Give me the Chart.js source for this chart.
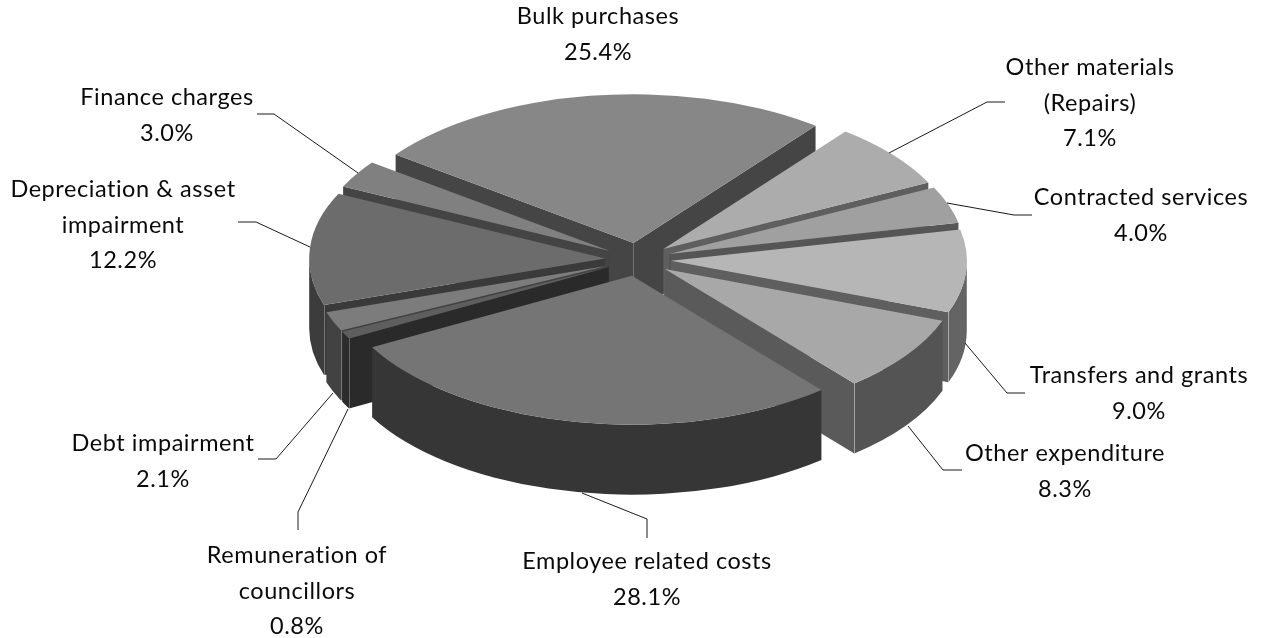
<!DOCTYPE html>
<html>
<head>
<meta charset="utf-8">
<title>Operating expenditure by type</title>
<script src="https://cdn.jsdelivr.net/npm/chart.js@4"></script>
<style>
  html, body { margin: 0; background: #fff; }
  #wrap { width: 1263px; height: 638px; }
</style>
</head>
<body>
<div id="wrap"><canvas id="pieChart"></canvas></div>
<script>
// Expenditure shares, clockwise from Bulk purchases
const categories = ['Bulk purchases', 'Other materials\n(Repairs)', 'Contracted services', 'Transfers and grants', 'Other expenditure',
    'Employee related costs', 'Remuneration of\ncouncillors', 'Debt impairment', 'Depreciation & asset\nimpairment', 'Finance charges'];
const shares = [25.4, 7.1, 4.0, 9.0, 8.3, 28.1, 0.8, 2.1, 12.2, 3.0];

const topColors = ['#878787', '#acacac', '#a0a0a0', '#b6b6b6', '#a8a8a8', '#757575', '#5e5e5e', '#7c7c7c', '#6c6c6c', '#808080'];
const rimColors = ['#454545', '#5c5c5c', '#555555', '#646464', '#545454', '#363636', '#2c2c2c', '#424242', '#3c3c3c', '#444444'];
const cutColors = ['#454545', '#5f5f5f', '#555555', '#5f5f5f', '#5a5a5a', '#363636', '#2a2a2a', '#424242', '#3a3a3a', '#444444'];

// Label centres, first line baseline
const labelSpots = [[598, 24], [1090, 75], [1141, 205], [1139, 383], [1065, 461], [647, 569], [297, 563], [163, 451], [123, 197], [167, 105]];
const leaders = [
    null,
    [[889, 153], [987, 102], [1005, 102]],
    [[947, 203], [1014, 215], [1032, 215]],
    [[965, 343], [1007, 393], [1025, 393]],
    [[908, 426], [943, 470], [962, 470]],
    [[582, 493], [647, 519], [647, 538]],
    [[348, 409], [298, 512], [298, 530]],
    [[333, 393], [276, 459], [258, 459]],
    [[310, 247], [256, 222], [238, 222]],
    [[358, 173], [274, 114], [257, 114]]
];

const RIM_X = 296;   // on-screen half width of the disc
const TILT = 0.503;  // how much the disc is squashed vertically
const DEPTH = 70;    // wall height

// Pie that extrudes each slice and paints back to front
class Pie3DController extends Chart.PieController {
    static id = 'pie3d';

    draw() {
        const ctx = this.chart.ctx;
        const arcs = this.getMeta().data.map((el, i) => ({ el, i }));
        const midY = a => Math.sin((a.el.startAngle + a.el.endAngle) / 2);
        arcs.sort((a, b) => midY(a) - midY(b));
        arcs.forEach(a => this.drawSlice(ctx, a.el, a.i));
    }

    drawSlice(ctx, el, i) {
        const a0 = el.startAngle, a1 = el.endAngle;
        const mid = (a0 + a1) / 2;
        const kx = RIM_X / el.outerRadius, ky = kx * TILT;
        const cx = el.x + Math.cos(mid) * el.options.offset * kx;
        const cy = el.y + Math.sin(mid) * el.options.offset * ky;
        const rx = el.outerRadius * kx, ry = el.outerRadius * ky;
        const px = a => cx + Math.cos(a) * rx;
        const py = a => cy + Math.sin(a) * ry;

        const cutWall = a => {
            ctx.beginPath();
            ctx.moveTo(cx, cy);
            ctx.lineTo(px(a), py(a));
            ctx.lineTo(px(a), py(a) + DEPTH);
            ctx.lineTo(cx, cy + DEPTH);
            ctx.closePath();
            ctx.fillStyle = cutColors[i];
            ctx.fill();
        };
        const startShown = -Math.cos(a0) > 0, endShown = Math.cos(a1) > 0;
        if (startShown) cutWall(a0);
        if (endShown) cutWall(a1);

        // Outer wall: only the part of the rim that faces the viewer (0..PI, or 2PI..3PI)
        [0, 2 * Math.PI, -2 * Math.PI].forEach(shift => {
            const from = Math.max(a0, shift), to = Math.min(a1, shift + Math.PI);
            if (to <= from) return;
            ctx.beginPath();
            ctx.ellipse(cx, cy, rx, ry, 0, from, to);
            ctx.ellipse(cx, cy + DEPTH, rx, ry, 0, to, from, true);
            ctx.closePath();
            ctx.fillStyle = rimColors[i];
            ctx.fill();
        });

        // Faint highlight down the corners where a cut meets the rim
        ctx.strokeStyle = 'rgba(255,255,255,0.28)';
        ctx.lineWidth = 1;
        [[startShown, a0], [endShown, a1]].forEach(([shown, a]) => {
            if (!shown || Math.sin(a) < 0) return;
            const x = Math.round(px(a)) + 0.5;
            ctx.beginPath();
            ctx.moveTo(x, py(a));
            ctx.lineTo(x, py(a) + DEPTH);
            ctx.stroke();
        });

        ctx.beginPath();
        ctx.moveTo(cx, cy);
        ctx.ellipse(cx, cy, rx, ry, 0, a0, a1);
        ctx.closePath();
        ctx.fillStyle = el.options.backgroundColor;
        ctx.fill();
    }
}
Chart.register(Pie3DController);

const labelPlugin = {
    id: 'sliceLabels',
    afterDraw(chart) {
        const ctx = chart.ctx;
        ctx.save();
        ctx.strokeStyle = '#1a1a1a';
        ctx.lineWidth = 1;
        leaders.forEach(path => {
            if (!path) return;
            ctx.beginPath();
            path.forEach((p, n) => n ? ctx.lineTo(p[0], p[1]) : ctx.moveTo(p[0], p[1]));
            ctx.stroke();
        });
        ctx.fillStyle = '#0a0a0a';
        ctx.font = '23.5px Lato';
        ctx.letterSpacing = '0.55px';
        ctx.textAlign = 'center';
        ctx.textBaseline = 'alphabetic';
        categories.forEach((name, i) => {
            const lines = name.split('\n').concat(shares[i].toFixed(1) + '%');
            lines.forEach((line, n) => ctx.fillText(line, labelSpots[i][0], labelSpots[i][1] + n * 35.7));
        });
        ctx.restore();
    }
};

new Chart(document.getElementById('pieChart').getContext('2d'), {
    type: 'pie3d',
    data: {
        labels: categories,
        datasets: [{
            data: shares,
            backgroundColor: topColors,
            borderWidth: 0,
            offset: 27.3
        }]
    },
    options: {
        responsive: true,
        maintainAspectRatio: false,
        animation: false,
        rotation: -53.5,
        layout: { padding: { left: 13, bottom: 119 } },
        events: [],
        plugins: {
            legend: { display: false },
            tooltip: { enabled: false }
        }
    },
    plugins: [labelPlugin]
});
</script>
</body>
</html>
